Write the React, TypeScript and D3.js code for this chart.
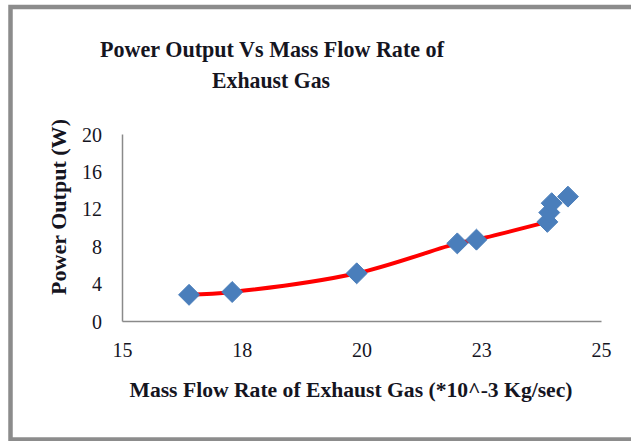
import React, { useRef, useEffect } from 'react';
import * as d3 from 'd3';

// mass flow rate (*10^-3 kg/sec) vs power output (W)
const massFlow = [16.4, 17.3, 19.9, 22.0, 22.4, 23.88, 23.92, 23.97, 24.31];
const powerOut = [2.8, 3.1, 5.1, 8.3, 8.7, 10.6, 11.6, 12.6, 13.3];
// the red smooth line only runs through the first six points
const lineCount = 6;

const xTicks = [15, 17.5, 20, 22.5, 25];
const yTicks = [0, 4, 8, 12, 16, 20];

const W = 631;
const H = 441;

const App: React.FC = () => {
    const ref = useRef<SVGSVGElement | null>(null);

    useEffect(() => {
        const svg = d3.select(ref.current);
        svg.selectAll('*').remove();

        const font = '"Liberation Serif", "DejaVu Serif", serif';
        const ink = '#15151f';

        const x = d3.scaleLinear().domain([15, 25]).range([122, 601]);
        const y = d3.scaleLinear().domain([0, 20]).range([321, 134]);

        // outer frame (right side runs off the picture)
        svg.append('rect')
            .attr('x', 10.5).attr('y', 7)
            .attr('width', 700).attr('height', 432.5)
            .attr('fill', 'none')
            .attr('stroke', '#8c8c8c')
            .attr('stroke-width', 4.5);

        // title
        const title = svg.append('g')
            .attr('font-family', font)
            .attr('font-weight', 'bold')
            .attr('font-size', 24)
            .attr('fill', ink)
            .attr('text-anchor', 'middle');
        title.append('text').attr('x', 272).attr('y', 57)
            .attr('textLength', 344).attr('lengthAdjust', 'spacingAndGlyphs')
            .text('Power Output Vs Mass Flow Rate of');
        title.append('text').attr('x', 271).attr('y', 88)
            .attr('textLength', 118).attr('lengthAdjust', 'spacingAndGlyphs')
            .text('Exhaust Gas');

        // axes
        const xAxis = svg.append('g')
            .attr('transform', `translate(0,${y(0)})`)
            .call(d3.axisBottom(x).tickValues(xTicks).tickSize(0).tickPadding(22)
                .tickFormat((d) => d3.format('.0f')(Math.round(+d))));
        const yAxis = svg.append('g')
            .attr('transform', `translate(${x(15)},0)`)
            .call(d3.axisLeft(y).tickValues(yTicks).tickSize(0).tickPadding(20));

        [xAxis, yAxis].forEach((g) => {
            g.select('.domain').attr('stroke', '#8a8a8a').attr('stroke-width', 1.5);
            g.selectAll('text')
                .attr('font-family', font)
                .attr('font-size', 20)
                .attr('fill', ink);
        });
        yAxis.selectAll('text').attr('dy', '0.35em');
        xAxis.selectAll('text').attr('dy', '0.72em');

        // axis titles
        svg.append('text')
            .attr('x', 351).attr('y', 397)
            .attr('text-anchor', 'middle')
            .attr('font-family', font)
            .attr('font-weight', 'bold')
            .attr('font-size', 20)
            .attr('fill', ink)
            .attr('textLength', 443).attr('lengthAdjust', 'spacingAndGlyphs')
            .text('Mass Flow Rate of Exhaust Gas (*10^-3 Kg/sec)');

        svg.append('text')
            .attr('transform', 'translate(66,207) rotate(-90)')
            .attr('text-anchor', 'middle')
            .attr('font-family', font)
            .attr('font-weight', 'bold')
            .attr('font-size', 20)
            .attr('fill', ink)
            .attr('textLength', 176).attr('lengthAdjust', 'spacingAndGlyphs')
            .text('Power Output (W)');

        // smooth red line
        const pts = massFlow.map((m, i) => [m, powerOut[i]] as [number, number]);
        const line = d3.line<[number, number]>()
            .x((d) => x(d[0]))
            .y((d) => y(d[1]))
            .curve(d3.curveCatmullRom.alpha(0.5));
        svg.append('path')
            .attr('d', line(pts.slice(0, lineCount)))
            .attr('fill', 'none')
            .attr('stroke', '#ff0000')
            .attr('stroke-width', 4)
            .attr('stroke-linecap', 'round');

        // diamond markers
        const diamond = d3.symbol().type(d3.symbolDiamond2).size(280);
        svg.append('g')
            .selectAll('path')
            .data(pts)
            .enter()
            .append('path')
            .attr('d', diamond)
            .attr('transform', (d) => `translate(${x(d[0])},${y(d[1])})`)
            .attr('fill', '#4a7ebb')
            .attr('stroke', '#4a7ebb')
            .attr('stroke-width', 1);
    }, []);

    return (
        <svg ref={ref} width={W} height={H}
            style={{ position: 'absolute', left: 0, top: 0, background: '#fff' }} />
    );
};

export default App;
